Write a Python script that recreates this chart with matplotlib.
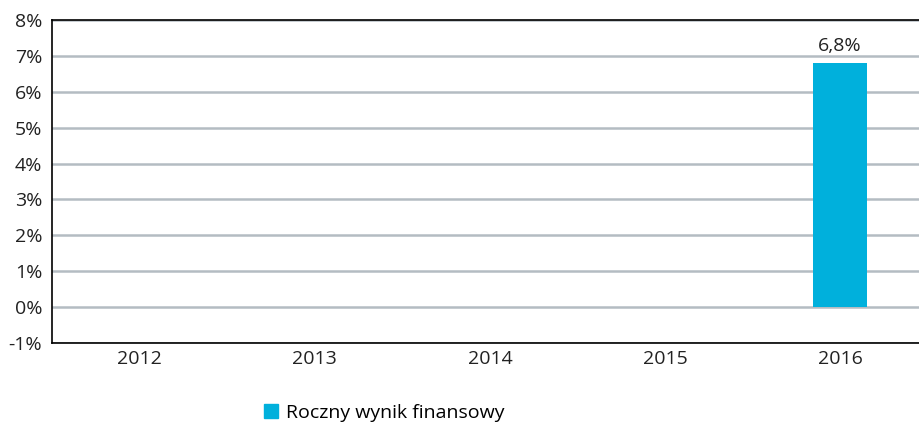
import matplotlib
matplotlib.use("Agg")
import matplotlib.pyplot as plt
from matplotlib.patches import Patch

years = ["2012", "2013", "2014", "2015", "2016"]
values = [None, None, None, None, 6.8]
labels = ["", "", "", "", "6,8%"]
yticks = [-1, 0, 1, 2, 3, 4, 5, 6, 7, 8]
series_name = "Roczny wynik finansowy"

plt.rcParams['font.family'] = ['Open Sans', 'DejaVu Sans']
color = "#00b0dc"
fs = 14

fig = plt.figure(figsize=(9.19, 4.25), dpi=100)
ax = fig.add_axes([52/919, 1-343/425, 1-52/919, 323/425])

xs = list(range(len(years)))
for x, v, lab in zip(xs, values, labels):
    if v is not None:
        ax.bar(x, v, width=0.31, color=color, zorder=3)
        ax.text(x, v + 0.22, lab, ha="center", va="bottom", fontsize=fs, color="#222222")

ax.set_xlim(-0.5, 4.45)
ax.set_ylim(-1, 8)
ax.set_yticks(yticks)
ax.set_yticklabels([f"{t}%" for t in yticks], fontsize=fs, color="#222222")
ax.set_xticks(xs)
ax.set_xticklabels(years, fontsize=fs, color="#222222")
ax.tick_params(length=0)
ax.tick_params(axis="x", pad=5)
ax.tick_params(axis="y", pad=7)
ax.yaxis.grid(True, color="#b4bcc2", linewidth=1.8, zorder=0)
ax.set_axisbelow(True)
for s in ["left", "bottom", "top"]:
    ax.spines[s].set_color("black")
    ax.spines[s].set_linewidth(1.2)
ax.spines["right"].set_visible(False)

fig.legend(handles=[Patch(color=color, label=series_name)], loc="center",
           bbox_to_anchor=(384/919, 1-413/425), frameon=False, fontsize=fs,
           handlelength=0.72, handleheight=0.72, handletextpad=0.4)

fig.savefig("out.png", dpi=100)
